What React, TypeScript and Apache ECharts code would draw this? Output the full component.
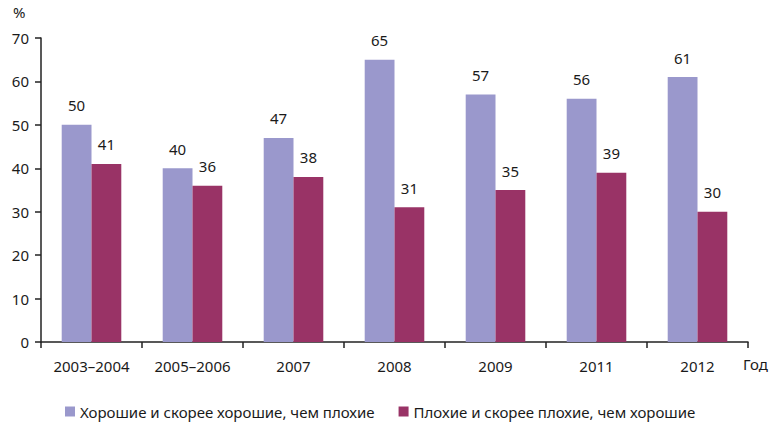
import React, { useEffect, useRef } from "react";
import * as echarts from "echarts";

const categories = ["2003–2004", "2005–2006", "2007", "2008", "2009", "2011", "2012"];
const goodValues = [50, 40, 47, 65, 57, 56, 61];
const badValues = [41, 36, 38, 31, 35, 39, 30];
const seriesNames = [
  "Хорошие и скорее хорошие, чем плохие",
  "Плохие и скорее плохие, чем хорошие",
];
const yTicks = { min: 0, max: 70, interval: 10 };

const FONT = "Noto Sans";
const FS = 15;

export default function App() {
  const ref = useRef<HTMLDivElement>(null);
  useEffect(() => {
    if (!ref.current) return;
    const chart = echarts.init(ref.current, null, { renderer: "svg" });
    const labelStyle = {
      show: true,
      position: "top" as const,
      distance: 12,
      color: "#1a1a1a",
      fontSize: FS,
      fontFamily: FONT,
    };
    chart.setOption({
      animation: false,
      textStyle: { fontFamily: FONT },
      grid: { left: 41, right: 25, top: 38, bottom: 81, containLabel: false },
      legend: {
        top: 399,
        left: 60,
        icon: "rect",
        itemWidth: 10,
        itemHeight: 10,
        itemGap: 24,
        textStyle: { fontSize: FS, color: "#1a1a1a", fontFamily: FONT },
        data: seriesNames,
      },
      xAxis: {
        type: "category",
        data: categories,
        axisLine: { lineStyle: { color: "#222", width: 1.5 } },
        axisTick: { show: true, length: 6, inside: false, lineStyle: { color: "#222", width: 1.5 } },
        axisLabel: { interval: 0, fontSize: FS, color: "#1a1a1a", margin: 16, fontFamily: FONT },
      },
      yAxis: {
        type: "value",
        min: yTicks.min,
        max: yTicks.max,
        interval: yTicks.interval,
        splitLine: { show: false },
        axisLine: { show: true, lineStyle: { color: "#222", width: 1.5 } },
        axisTick: { show: true, length: 6, lineStyle: { color: "#222", width: 1.5 } },
        axisLabel: { fontSize: FS, color: "#1a1a1a", margin: 12, fontFamily: FONT },
      },
      graphic: [
        {
          type: "text",
          left: 13,
          top: 4,
          style: { text: "%", fontSize: FS, fill: "#1a1a1a", fontFamily: FONT },
        },
        {
          type: "text",
          left: 743,
          top: 356,
          style: { text: "Год", fontSize: FS, fill: "#1a1a1a", fontFamily: FONT },
        },
      ],
      series: [
        {
          name: seriesNames[0],
          type: "bar",
          data: goodValues,
          barGap: "0%",
          barCategoryGap: "41%",
          itemStyle: { color: "#9A98CC" },
          label: labelStyle,
        },
        {
          name: seriesNames[1],
          type: "bar",
          data: badValues,
          barGap: "0%",
          barCategoryGap: "41%",
          itemStyle: { color: "#993366" },
          label: labelStyle,
        },
      ],
    });
    return () => chart.dispose();
  }, []);
  return (
    <div
      ref={ref}
      style={{ position: "absolute", left: 0, top: 0, width: 773, height: 423 }}
    />
  );
}
